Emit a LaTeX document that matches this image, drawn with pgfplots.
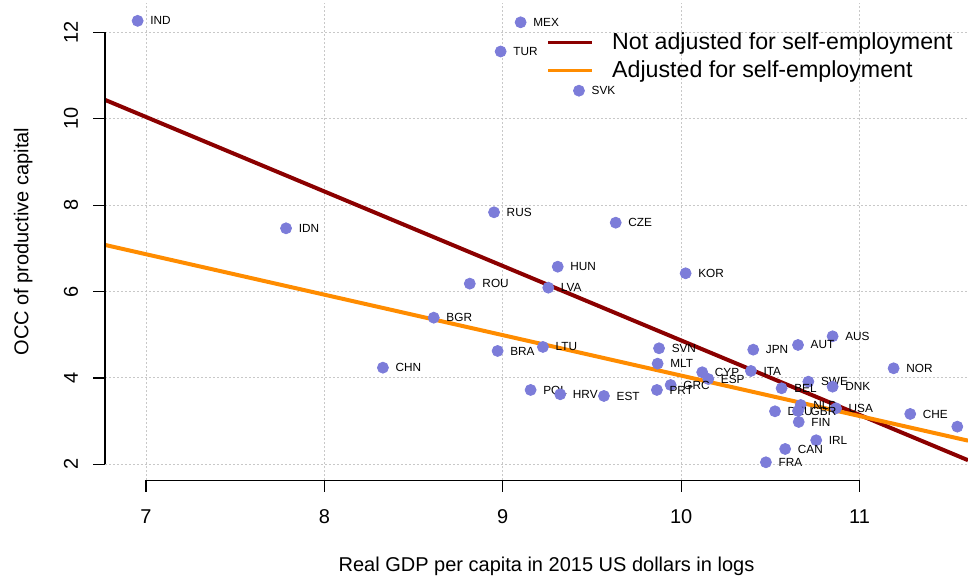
\documentclass[border=0pt]{standalone}
\usepackage{fontspec}
\setmainfont{Liberation Sans}
\usepackage{pgfplots}
\pgfplotsset{compat=1.18}
\usepackage{pgfplotstable}
\definecolor{ptcol}{RGB}{124,124,217}
\definecolor{rline}{RGB}{139,0,0}
\definecolor{oline}{RGB}{255,140,0}
\definecolor{gridc}{RGB}{200,200,200}

\pgfplotstableread{
x y lab
6.953 12.270 IND
9.100 12.236 MEX
8.988 11.560 TUR
9.427 10.652 SVK
8.951 7.836 RUS
9.633 7.595 CZE
7.785 7.465 IDN
9.308 6.576 HUN
10.025 6.423 KOR
8.815 6.183 ROU
9.255 6.090 LVA
8.613 5.395 BGR
10.849 4.964 AUS
10.655 4.763 AUT
9.225 4.717 LTU
9.876 4.686 SVN
10.404 4.654 JPN
8.971 4.624 BRA
9.868 4.330 MLT
8.328 4.237 CHN
11.191 4.223 NOR
10.391 4.161 ITA
10.118 4.131 CYP
10.152 3.975 ESP
10.713 3.913 SWE
9.941 3.836 GRC
10.849 3.797 DNK
10.563 3.760 BEL
9.156 3.721 POL
9.864 3.721 PRT
9.322 3.621 HRV
9.567 3.582 EST
10.670 3.373 NLD
10.868 3.297 USA
10.526 3.227 DEU
10.655 3.234 GBR
11.284 3.165 CHE
10.659 2.980 FIN
10.757 2.556 IRL
10.583 2.354 CAN
10.475 2.046 FRA
}\pts

\begin{document}
\begin{tikzpicture}
\begin{axis}[
  x=89.2pt, y=21.59pt,
  xmin=6.770, xmax=11.608, ymin=1.625, ymax=12.683,
  axis x line*=bottom, axis y line*=left,
  axis line style={draw=none},
  clip=false,
  xtick={7,8,9,10,11}, ytick={2,4,6,8,10,12},
  major tick length=0pt,
  grid=major,
  major grid style={gridc, line width=0.5pt, dash pattern=on 1pt off 1pt},
  /pgf/number format/assume math mode=true,
  tick label style={font=\fontsize{10}{12}\selectfont, text=black},
  xticklabel style={anchor=base},
  xticklabel shift=21.75pt,
  yticklabel style={rotate=90, anchor=base},
  yticklabel shift=13.5pt,
  xlabel={Real GDP per capita in 2015 US dollars in logs},
  ylabel={OCC of productive capital},
  xlabel style={at={(axis cs:9.245,-0.487)}, anchor=base, font=\fontsize{10}{12}\selectfont},
  ylabel style={at={(axis cs:6.341,7.16)}, anchor=base, font=\fontsize{10}{12}\selectfont},
  legend cell align=left,
  legend style={draw=none, fill=none, inner sep=0pt, outer sep=0pt,
    at={(axis cs:9.246,12.02)}, anchor=north west,
    font=\fontsize{11.6}{14}\selectfont, row sep=3.3pt,
    nodes={inner sep=0pt, text height=0.9em, text depth=0.18em}},
  legend image code/.code={\draw[line width=1.5pt] (0pt,0pt) -- (22pt,0pt); \path[draw=none] (0pt,0pt) -- (32pt,0pt);},
]
\addplot[only marks, mark=*, mark size=2.75pt, color=ptcol, forget plot,
  nodes near coords, point meta=explicit symbolic,
  nodes near coords align={horizontal},
  nodes near coords style={anchor=west, inner sep=0pt, xshift=6.15pt, text=black, font=\fontsize{5.9}{7}\selectfont}]
  table[x=x, y=y, meta=lab] {\pts};
\addplot[only marks, mark=*, mark size=2.75pt, color=ptcol, forget plot]
  coordinates {(11.548,2.871)};
\addplot[rline, line width=2pt] coordinates {(6.770,10.44) (11.608,2.094)};
\addlegendentry{Not adjusted for self-employment}
\addplot[oline, line width=2pt] coordinates {(6.770,7.08) (11.608,2.547)};
\addlegendentry{Adjusted for self-employment}
\draw[line width=0.6pt] (axis cs:7,1.625) -- (axis cs:11,1.625);
\draw[line width=0.6pt] (axis cs:6.770,2) -- (axis cs:6.770,12);
\pgfplotsinvokeforeach{7,8,9,10,11}{\draw[line width=0.6pt] (axis cs:#1,1.625) -- ++(0pt,-6pt);}
\pgfplotsinvokeforeach{2,4,6,8,10,12}{\draw[line width=0.6pt] (axis cs:6.770,#1) -- ++(-6pt,0pt);}
\coordinate (bl) at (axis cs:6.1814,-0.633);
\coordinate (tr) at (axis cs:11.608,12.753);
\end{axis}
\pgfresetboundingbox
\path[use as bounding box] (bl) rectangle (tr);
\end{tikzpicture}
\end{document}
